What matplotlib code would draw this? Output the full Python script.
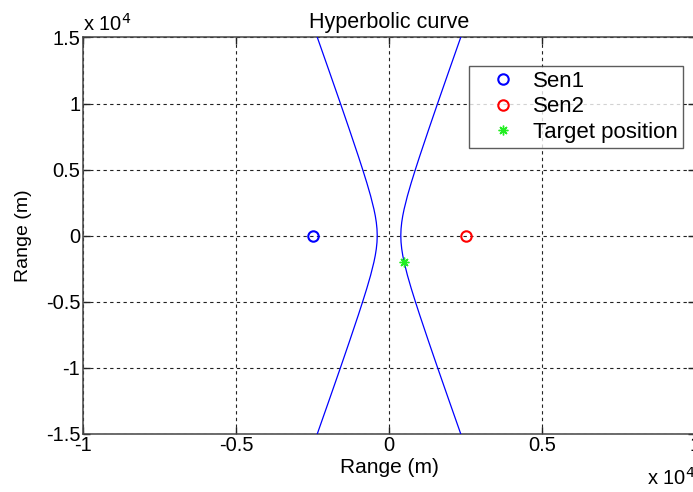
import matplotlib
matplotlib.use("Agg")
import matplotlib.pyplot as plt
from matplotlib.ticker import FixedLocator, FuncFormatter

plt.rcParams['font.family'] = ['Liberation Sans', 'DejaVu Sans']
plt.rcParams['axes.unicode_minus'] = False

# Hyperbola points (metres)
curve_y = [-15000, -12500, -10000, -8000, -6000, -5000, -4000, -3000, -2000, -1500, -1000, -500,
           0, 500, 1000, 1500, 2000, 3000, 4000, 5000, 6000, 8000, 10000, 12500, 15000]
right_x = [2342, 1963, 1587, 1291, 1001, 861, 726, 601, 493, 449, 415, 393,
           385, 393, 415, 449, 493, 601, 726, 861, 1001, 1291, 1587, 1963, 2342]
left_x = [-v for v in right_x]

sen1 = (-2500, 0)
sen2 = (2500, 0)
target = (500, -2000)

x_ticks = [-10000, -5000, 0, 5000, 10000]
y_ticks = [-15000, -10000, -5000, 0, 5000, 10000, 15000]

fig = plt.figure(figsize=(6.93, 4.92), dpi=100)
ax = fig.add_axes([0.1198, 0.1185, 0.8831, 0.8053])

ax.plot(right_x, curve_y, color='#0000ff', lw=0.9, zorder=3)
ax.plot(left_x, curve_y, color='#0000ff', lw=0.9, zorder=3)
ax.plot([sen1[0]], [sen1[1]], 'o', mfc='none', mec='#0000ff', ms=7.5, mew=1.5, label='Sen1', zorder=4)
ax.plot([sen2[0]], [sen2[1]], 'o', mfc='none', mec='#ff0000', ms=7.5, mew=1.5, label='Sen2', zorder=4)
ax.plot([target[0]], [target[1]], marker=(8, 2, 0), ls='none', color='#22ee22', ms=7, mew=1.0,
        label='Target position', zorder=4)

ax.set_xlim(-10000, 10000)
ax.set_ylim(-15000, 15000)
ax.xaxis.set_major_locator(FixedLocator(x_ticks))
ax.yaxis.set_major_locator(FixedLocator(y_ticks))
fmt = FuncFormatter(lambda v, p: ('%g' % (v / 1e4)))
ax.xaxis.set_major_formatter(fmt)
ax.yaxis.set_major_formatter(fmt)

ax.grid(True, color='#222222', linestyle=(0, (3, 3)), lw=0.8)
ax.tick_params(direction='in', length=5, width=1, top=True, right=True,
               labelsize=14.5, pad=2, colors='#222222', labelcolor='black')
for s in ax.spines.values():
    s.set_color('#444444')
    s.set_linewidth(1.1)

ax.set_title('Hyperbolic curve', fontsize=15.5, pad=7)
ax.set_xlabel('Range (m)', fontsize=15, labelpad=2)
ax.set_ylabel('Range (m)', fontsize=14, labelpad=10)

ax.text(0.0, 1.008, r'x 10$^{4}$', transform=ax.transAxes, fontsize=14.5, ha='left', va='bottom')
ax.text(0.9216, -0.1295, r'x 10$^{4}$', transform=ax.transAxes, fontsize=14.5, ha='left', va='baseline')

leg = ax.legend(loc='upper right', bbox_to_anchor=(0.980, 0.928), borderaxespad=0,
                fontsize=16, frameon=True, fancybox=False, edgecolor='#333333',
                labelspacing=0.2, handlelength=2.68, handletextpad=0.0, borderpad=0.22,
                numpoints=1)
leg.get_frame().set_linewidth(1.0)
leg.set_zorder(10)

fig.savefig('out.png', dpi=100, facecolor='white')
